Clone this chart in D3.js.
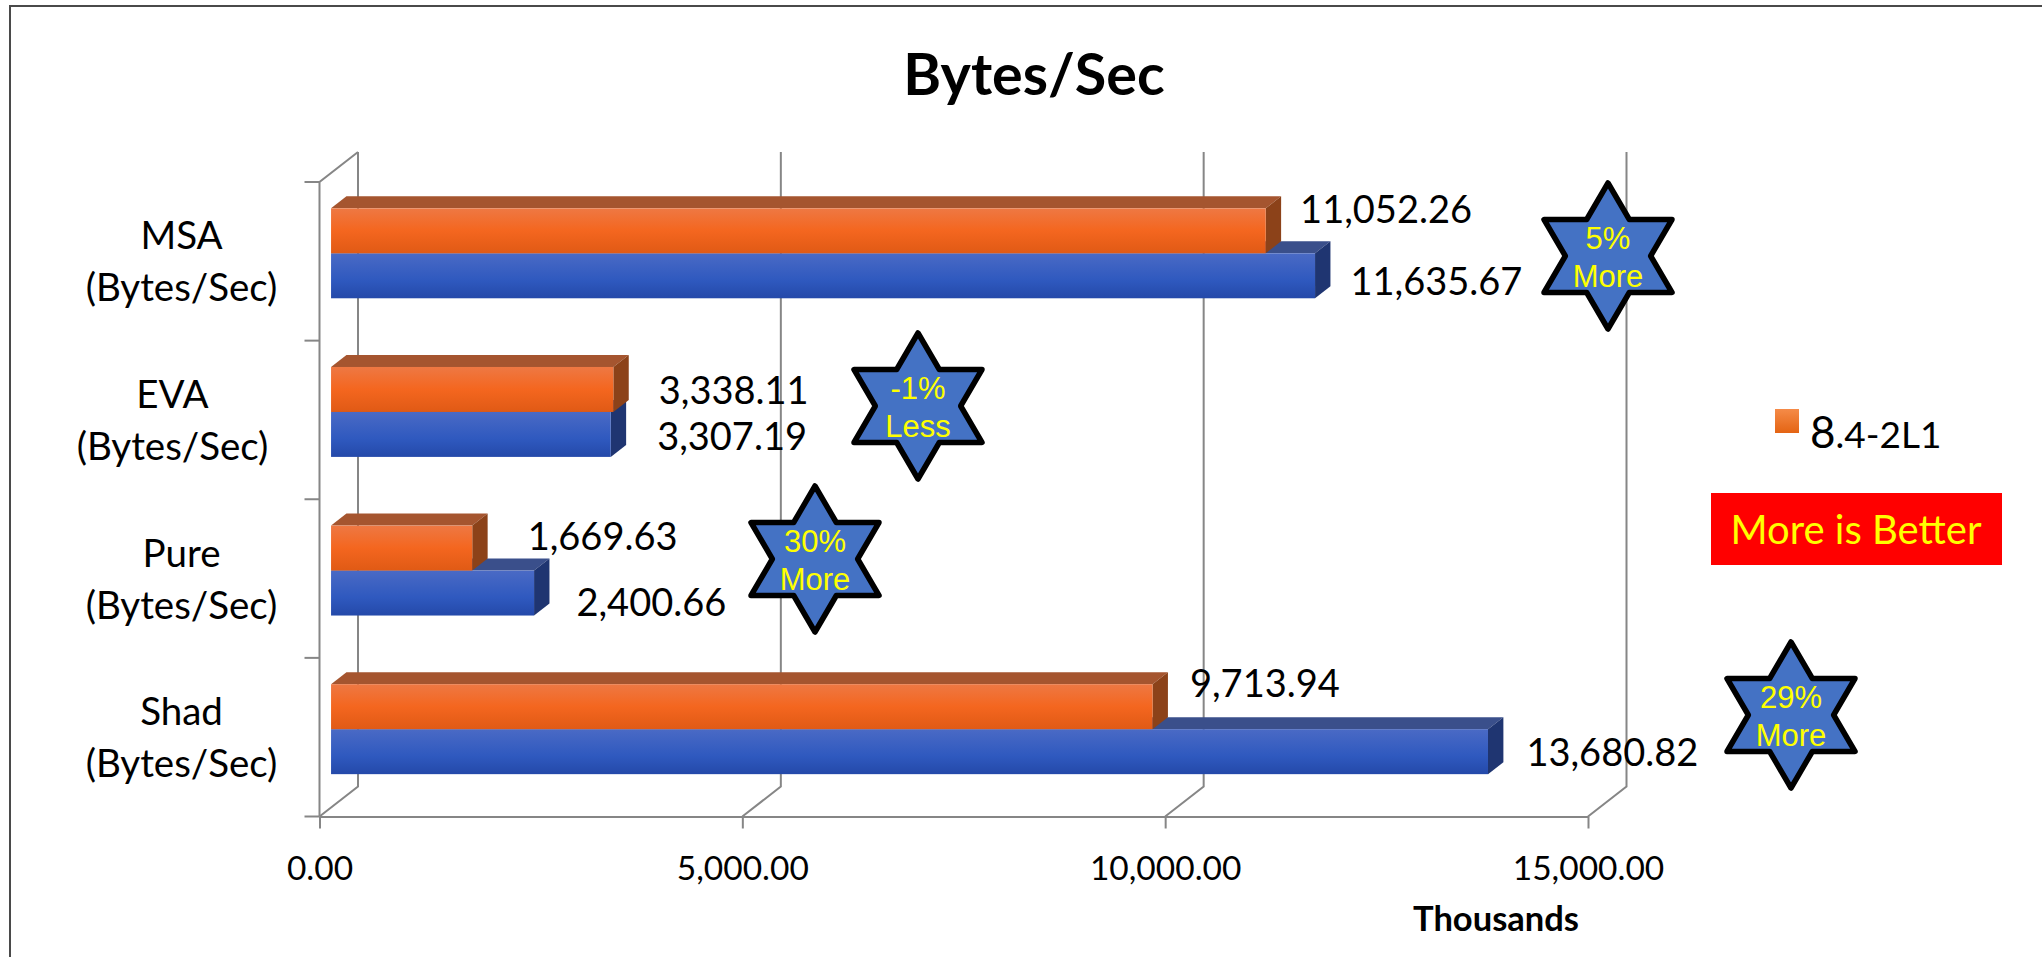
<!DOCTYPE html>
<html>
<head>
<meta charset="utf-8">
<style>
	html, body{ margin:0; padding:0; background:#fff; }
	svg{ display:block; }
	text{ font-family:Lato, sans-serif; fill:#000; }
	.grid{ fill:none; stroke:#868686; stroke-width:2; }
	.star-text{ font-family:"Liberation Sans", Arial, sans-serif; font-size:31px; fill:#ff0; text-anchor:middle; }
</style>
<script src="https://d3js.org/d3.v7.min.js"></script>
</head>
<body>
<div id="container"></div>
<script type="text/javascript">

var categories = ["MSA", "EVA", "Pure", "Shad"];
var seriesNames = ["8.4-2L1", "Baseline"];
var orangeValues = [11052.26, 3338.11, 1669.63, 9713.94];
var blueValues = [11635.67, 3307.19, 2400.66, 13680.82];
var xTicks = [0, 5000, 10000, 15000];
var starLines = [["5%", "More"], ["-1%", "Less"], ["30%", "More"], ["29%", "More"]];

var width = 2042, height = 957;

var svg = d3.select("#container").append("svg")
	.attr("width", width)
	.attr("height", height);

var x = d3.scaleLinear().domain([0, 15000]).range([319.5, 1588]);
var y = d3.scaleBand().domain(categories).range([182, 816.5])
	.paddingInner(0.433).paddingOuter(0.2165);
var ySeries = d3.scaleBand().domain(seriesNames).range([0, y.bandwidth()]);

// depth of the fake 3d box, bars sit between 30% and 70% of it
var depthX = 38.5, depthY = -30;
var barFront = 0.3, barBack = 0.7;
var step = y.step();
var wallTop = 182, wallBottom = 816.5;

var line = d3.line();
function poly(pts){ return line(pts) + "Z"; }

// gradients
var defs = svg.append("defs");
function gradient(id, stops){
	var g = defs.append("linearGradient").attr("id", id)
		.attr("x1", 0).attr("y1", 0).attr("x2", 0).attr("y2", 1);
	stops.forEach(function(s){
		g.append("stop").attr("offset", s[0]).attr("stop-color", s[1]);
	});
}
gradient("orangeFront", [[0, "#ee7843"], [0.5, "#f4661f"], [1, "#e05a15"]]);
gradient("blueFront", [[0, "#4a6ac5"], [0.6, "#2f59bf"], [1, "#2449a9"]]);
gradient("legendSwatch", [[0, "#f58b48"], [1, "#e46413"]]);

// chart border
svg.append("path")
	.attr("d", "M10,957V6H2042")
	.attr("fill", "none")
	.attr("stroke", "#4a4a4a")
	.attr("stroke-width", 2);

// walls
var walls = svg.append("g").attr("class", "walls");

xTicks.forEach(function(t){
	walls.append("path").attr("class", "grid")
		.attr("d", line([[x(t), wallBottom], [x(t) + depthX, wallBottom + depthY], [x(t) + depthX, wallTop + depthY]]));
});
walls.append("path").attr("class", "grid")
	.attr("d", line([[x(0), wallBottom], [x(0), wallTop], [x(0) + depthX, wallTop + depthY]]));

d3.range(categories.length + 1).forEach(function(i){
	var ty = wallTop + i * step;
	walls.append("path").attr("class", "grid")
		.attr("d", line([[x(0) - 15, ty], [x(0), ty]]));
});

// x axis
var xAxis = d3.axisBottom(x)
	.tickValues(xTicks)
	.tickFormat(d3.format(",.2f"))
	.tickSize(12)
	.tickPadding(28)
	.tickSizeOuter(0);

var axisG = svg.append("g")
	.attr("transform", "translate(0," + wallBottom + ")")
	.call(xAxis);
axisG.select(".domain").attr("stroke", "#868686").attr("stroke-width", 2);
axisG.selectAll(".tick line").attr("stroke", "#868686").attr("stroke-width", 2);
axisG.selectAll(".tick text")
	.style("font-family", "Lato, sans-serif")
	.style("font-size", "33.5px")
	.attr("fill", "#000");

// bars
var offX = depthX * barFront, offY = depthY * barFront + 1;
var dx = depthX * (barBack - barFront), dy = depthY * (barBack - barFront);

function drawBar(g, cat, name, value, front, top, side){
	var x0 = x(0) + offX, x1 = x(value) + offX;
	var y0 = y(cat) + ySeries(name) + offY, y1 = y0 + ySeries.bandwidth();
	g.append("path").attr("fill", top)
		.attr("d", poly([[x0, y0], [x0 + dx, y0 + dy], [x1 + dx, y0 + dy], [x1, y0]]));
	g.append("path").attr("fill", side)
		.attr("d", poly([[x1, y0], [x1 + dx, y0 + dy], [x1 + dx, y1 + dy], [x1, y1]]));
	g.append("rect").attr("fill", front)
		.attr("x", x0).attr("y", y0)
		.attr("width", x1 - x0).attr("height", y1 - y0);
}

categories.forEach(function(cat, i){
	var g = svg.append("g").attr("class", "bars");
	drawBar(g, cat, seriesNames[1], blueValues[i], "url(#blueFront)", "#3a4f8b", "#1f3571");
	drawBar(g, cat, seriesNames[0], orangeValues[i], "url(#orangeFront)", "#a5552f", "#8c4219");
});

// data labels were dragged by hand in the original, so nudge each one
var fmt = d3.format(",.2f");
var nudgeOrange = [[19, -8], [30, 15], [40, 2], [22, -10]];
var nudgeBlue = [[20, 19], [31, 16], [27, 23], [23, 14]];

function dataLabel(cat, name, value, nudge){
	svg.append("text")
		.attr("x", x(value) + offX + dx + nudge[0])
		.attr("y", y(cat) + ySeries(name) + offY + ySeries.bandwidth() / 2 + nudge[1])
		.style("font-size", "38px")
		.text(fmt(value));
}
categories.forEach(function(cat, i){
	dataLabel(cat, seriesNames[0], orangeValues[i], nudgeOrange[i]);
	dataLabel(cat, seriesNames[1], blueValues[i], nudgeBlue[i]);
});

// category labels
var catCenter = [181.5, 172.5, 181.5, 181.5];
categories.forEach(function(cat, i){
	var cy = y(cat) + y.bandwidth() / 2;
	var t = svg.append("text").attr("text-anchor", "middle").style("font-size", "38.5px");
	t.append("tspan").attr("x", catCenter[i]).attr("y", cy - 12).text(cat);
	t.append("tspan").attr("x", catCenter[i]).attr("y", cy + 40).text("(Bytes/Sec)");
});

// stars
var starCenters = [[1608, 256], [918, 406], [815, 559], [1791, 715]];
var H = 73, W = 64;
var starPts = [[0, -H], [W / 3, -H / 2], [W, -H / 2], [2 * W / 3, 0], [W, H / 2], [W / 3, H / 2],
	[0, H], [-W / 3, H / 2], [-W, H / 2], [-2 * W / 3, 0], [-W, -H / 2], [-W / 3, -H / 2]];

starCenters.forEach(function(c, i){
	var g = svg.append("g").attr("transform", "translate(" + c[0] + "," + c[1] + ")");
	g.append("path")
		.attr("d", poly(starPts))
		.attr("fill", "#4472c4")
		.attr("stroke", "#000")
		.attr("stroke-width", 5.5)
		.attr("stroke-linejoin", "round");
	g.append("text").attr("class", "star-text").attr("y", -7).text(starLines[i][0]);
	g.append("text").attr("class", "star-text").attr("y", 31).text(starLines[i][1]);
});

// title
svg.append("text")
	.attr("x", 1034).attr("y", 95)
	.attr("text-anchor", "middle")
	.style("font-size", "57.5px")
	.style("font-weight", "bold")
	.text("Bytes/Sec");

// axis unit
svg.append("text")
	.attr("x", 1496).attr("y", 931)
	.attr("text-anchor", "middle")
	.style("font-size", "34.5px")
	.style("font-weight", "bold")
	.text("Thousands");

// legend
svg.append("rect")
	.attr("x", 1775).attr("y", 409)
	.attr("width", 24).attr("height", 24)
	.attr("fill", "url(#legendSwatch)");
var legendText = svg.append("text").attr("x", 1810).attr("y", 448);
legendText.append("tspan").style("font-size", "44px").text(seriesNames[0].slice(0, 1));
legendText.append("tspan").style("font-size", "37px").text(seriesNames[0].slice(1));

// more is better box
svg.append("rect")
	.attr("x", 1711).attr("y", 493)
	.attr("width", 291).attr("height", 72)
	.attr("fill", "#ff0000");
svg.append("text")
	.attr("x", 1856).attr("y", 544)
	.attr("text-anchor", "middle")
	.style("font-size", "40px")
	.style("fill", "#ff0")
	.text("More is Better");

</script>
</body>
</html>
